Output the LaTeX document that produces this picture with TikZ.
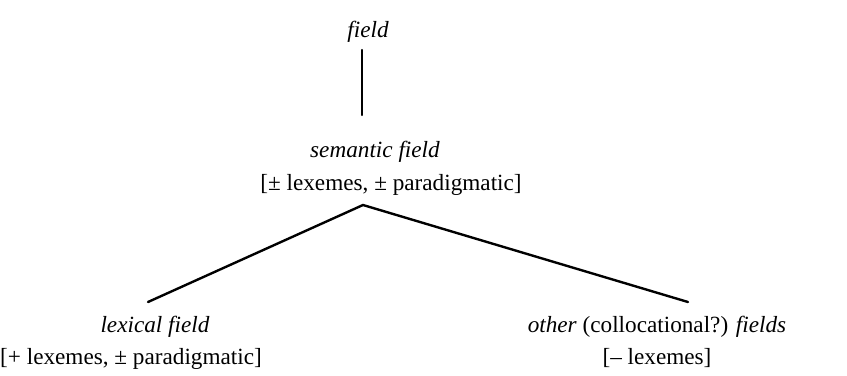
\documentclass[tikz,border=0pt]{standalone}
\usepackage{fontspec}
\setmainfont{Liberation Serif}
\usetikzlibrary{positioning}

\begin{document}
\begin{tikzpicture}[
  x=0.025cm, y=-0.025cm,
  lab/.style={font=\fontsize{16.5}{20}\selectfont, inner sep=0pt, anchor=base},
  edge/.style={line width=1.7pt, line cap=round}
]
\useasboundingbox (0,0) rectangle (847,375);

% ---------------- top ----------------
\node[lab] (field) at (368,37) {\textit{field}};
\coordinate (fieldfoot) at (362,50);

% ---------------- middle ----------------
\node[lab] (sem) at (375,157) {\textit{semantic field}};
\node[lab] (semf) at (391,190) {[± lexemes, ± paradigmatic]};
\coordinate (semtop) at (362,115);
\coordinate (apex) at (363,205);

% ---------------- bottom ----------------
\node[lab] (lex) at (155,332) {\textit{lexical field}};
\node[lab] (lexf) at (131,364) {[+ lexemes, ± paradigmatic]};
\node[lab] (oth) at (657,332) {\textit{other} (collocational?) \textit{fields}};
\node[lab] (othf) at (657,364) {[– lexemes]};
\coordinate (lexend) at (148,302);
\coordinate (othend) at (688,302);

\draw[edge] (fieldfoot) -- (semtop);
\draw[edge] (lexend) -- (apex) -- (othend);

\end{tikzpicture}
\end{document}
